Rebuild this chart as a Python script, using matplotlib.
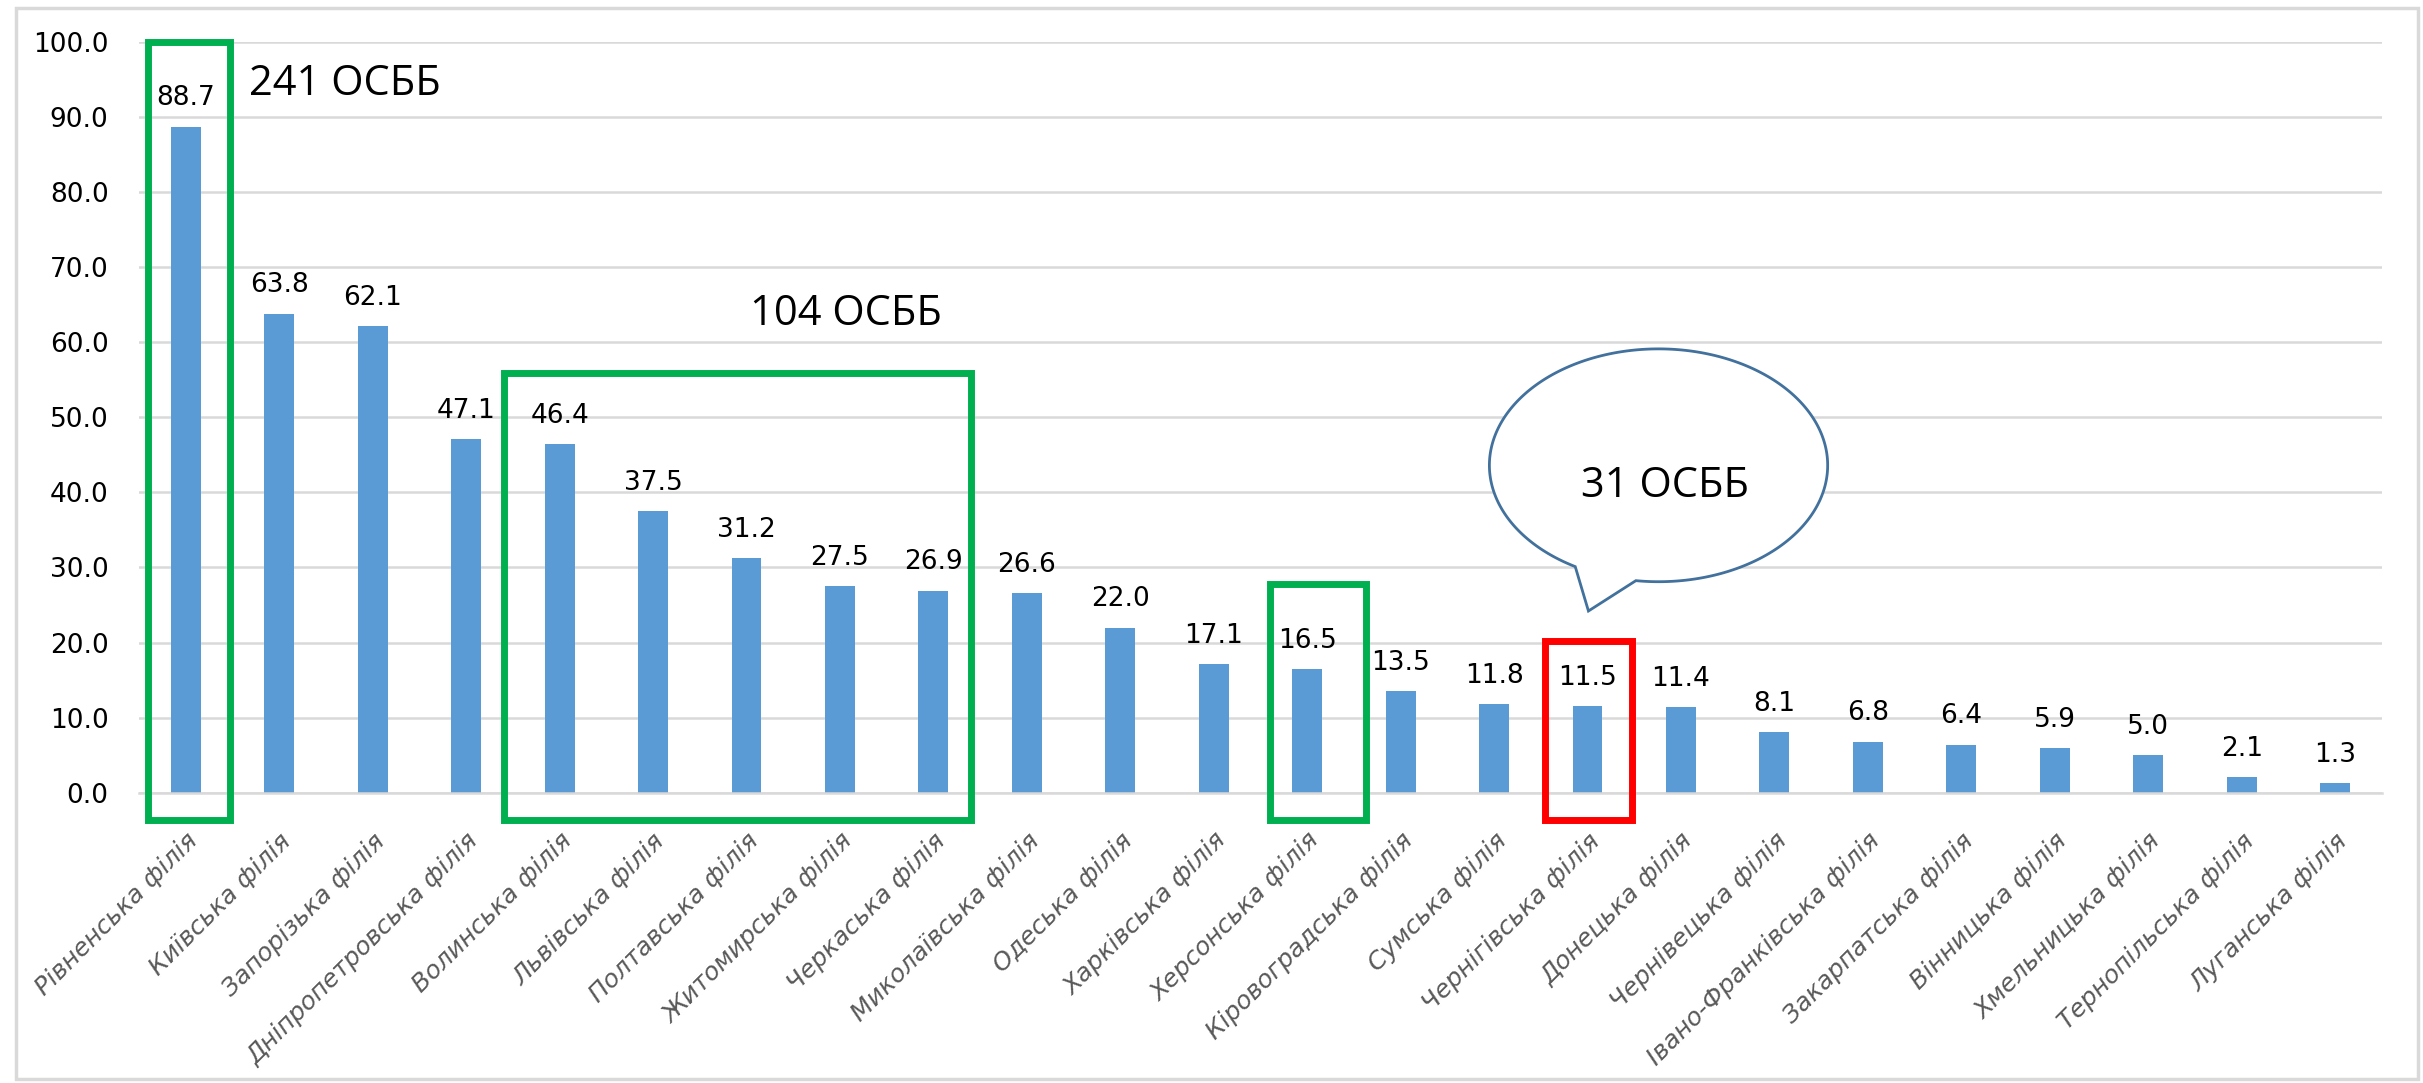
import numpy as np
import matplotlib
matplotlib.use("Agg")
import matplotlib.pyplot as plt
from matplotlib.patches import Rectangle, PathPatch
from matplotlib.path import Path

branches = ["Рівненська філія", "Київська філія", "Запорізька філія",
            "Дніпропетровська філія", "Волинська філія", "Львівська філія",
            "Полтавська філія", "Житомирська філія", "Черкаська філія",
            "Миколаївська філія", "Одеська філія", "Харківська філія",
            "Херсонська філія", "Кіровоградська філія", "Сумська філія",
            "Чернігівська філія", "Донецька філія", "Чернівецька філія",
            "Івано-Франківська філія", "Закарпатська філія", "Вінницька філія",
            "Хмельницька філія", "Тернопільська філія", "Луганська філія"]
values = [88.7, 63.8, 62.1, 47.1, 46.4, 37.5, 31.2, 27.5, 26.9, 26.6, 22.0, 17.1,
          16.5, 13.5, 11.8, 11.5, 11.4, 8.1, 6.8, 6.4, 5.9, 5.0, 2.1, 1.3]
yticks = [0, 10, 20, 30, 40, 50, 60, 70, 80, 90, 100]

# highlighted groups: (left edge, right edge, top of frame, colour)
frames = [(-0.4, 0.47, 100.0, "#00B050"), (3.4, 8.4, 55.9, "#00B050"),
          (11.6, 12.63, 27.8, "#00B050"), (14.55, 15.48, 20.2, "#FF0000")]
notes = [("241 ОСББ", 0.68, 94.4, "left"), ("104 ОСББ", 7.06, 63.7, "center")]
bubble_text = "31 ОСББ"

fig = plt.figure(figsize=(24.23, 10.83), dpi=100)
fig.patches.append(Rectangle((0.0064, 0.004), 0.9916, 0.989, transform=fig.transFigure,
                             fill=False, ec="#D9D9D9", lw=2.5))
ax = fig.add_axes([0.0574, 0.268, 0.9256, 0.6935])

x = np.arange(len(values))
ax.bar(x, values, width=0.32, color="#5B9BD5", zorder=2)
ax.set_xlim(-0.5, len(values) - 0.5)
ax.set_ylim(0, 100)
ax.set_yticks(yticks)
ax.set_yticklabels([f"{t:.1f}" for t in yticks], fontsize=19)
ax.grid(axis="y", color="#D9D9D9", lw=1.8, zorder=0)
for s in ["top", "right", "left"]:
    ax.spines[s].set_visible(False)
ax.spines["bottom"].set_color("#D9D9D9")
ax.spines["bottom"].set_linewidth(1.8)
ax.tick_params(length=0)
ax.tick_params(axis="y", pad=22)

ax.set_xticks(x)
ax.set_xticklabels(branches, rotation=45, ha="right", va="top", rotation_mode="anchor",
                   fontsize=18, color="#595959", fontstyle="italic")
ax.tick_params(axis="x", pad=26)

for i, v in zip(x, values):
    ax.annotate(f"{v:.1f}", (i, v), xytext=(0, 11), textcoords="offset points",
                ha="center", va="bottom", fontsize=19)

for x0, x1, top, col in frames:
    ax.add_patch(Rectangle((x0, -3.6), x1 - x0, top + 3.6, fill=False,
                           ec=col, lw=5, clip_on=False, zorder=4))

for txt, tx, ty, ha in notes:
    ax.text(tx, ty, txt, ha=ha, va="center", fontsize=30, family="Open Sans")

# speech bubble
cx, cy, rx, ry = 15.76, 43.6, 1.81, 15.5
t = np.radians(np.linspace(-97.7, 240.5, 300))
pts = list(zip(cx + rx * np.cos(t), cy + ry * np.sin(t)))
pts.append((15.01, 24.2))
pts.append(pts[0])
codes = [Path.MOVETO] + [Path.LINETO] * (len(pts) - 2) + [Path.CLOSEPOLY]
ax.add_patch(PathPatch(Path(pts, codes), fc="white", ec="#41719C", lw=2, zorder=3))
ax.text(15.83, 40.9, bubble_text, ha="center", va="center", fontsize=30,
        family="Open Sans", zorder=5)

fig.savefig("out.png", dpi=100)
